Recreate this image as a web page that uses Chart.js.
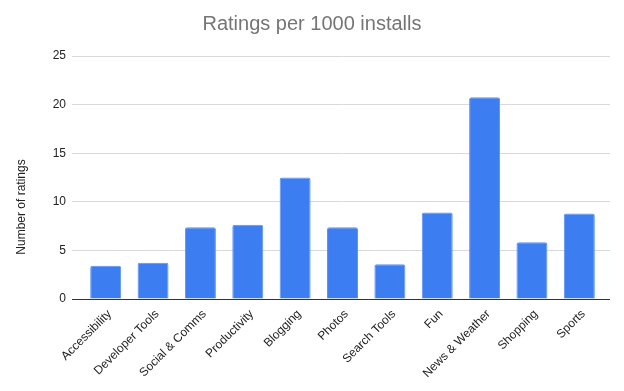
<!DOCTYPE html>
<html>
<head>
<meta charset="utf-8">
<script src="https://cdn.jsdelivr.net/npm/chart.js@4/dist/chart.umd.min.js"></script>
<style>
html,body{margin:0;padding:0;background:#fff;}
#wrap{width:624px;height:391px;position:relative;}
</style>
</head>
<body>
<div id="wrap"><canvas id="c" width="624" height="391"></canvas></div>
<script>
const categories = ["Accessibility","Developer Tools","Social & Comms","Productivity","Blogging","Photos","Search Tools","Fun","News & Weather","Shopping","Sports"];
const ratings = [3.42, 3.73, 7.37, 7.64, 12.5, 7.37, 3.57, 8.9, 20.76, 5.83, 8.8];
const yTicks = [0, 5, 10, 15, 20, 25];
const chartTitle = "Ratings per 1000 installs";
const yTitle = "Number of ratings";

const FONT = "'Liberation Sans', Arial, sans-serif";

const yTitlePlugin = {
  id: 'yTitle',
  afterDraw(chart) {
    const ctx = chart.ctx;
    ctx.save();
    ctx.translate(22, 207);
    ctx.rotate(-Math.PI / 2);
    ctx.font = "12px " + FONT;
    ctx.fillStyle = '#222';
    ctx.textAlign = 'center';
    ctx.textBaseline = 'middle';
    ctx.fillText(yTitle, 0, 0);
    ctx.restore();
  }
};

const gridColor = ctx => (ctx.tick && ctx.tick.value === 0) ? '#333333' : '#d9d9d9';

new Chart(document.getElementById('c'), {
  type: 'bar',
  data: {
    labels: categories,
    datasets: [{
      data: ratings,
      backgroundColor: '#3c7ef1',
      borderColor: '#5a92f3',
      borderWidth: 1,
      borderRadius: 2,
      borderSkipped: 'bottom',
      categoryPercentage: 1,
      barPercentage: 0.654
    }]
  },
  options: {
    responsive: false,
    animation: false,
    layout: { padding: { left: 0, right: 0, top: 0, bottom: 0 } },
    plugins: {
      legend: { display: false },
      tooltip: { enabled: false },
      title: {
        display: true,
        text: chartTitle,
        color: '#757575',
        font: { family: FONT, size: 20, weight: 'normal' },
        padding: { top: 12, bottom: 20 }
      }
    },
    scales: {
      x: {
        grid: { display: false },
        border: { display: true, color: '#333333', width: 1 },
        ticks: {
          color: '#222',
          font: { family: FONT, size: 12 },
          minRotation: 45,
          maxRotation: 45,
          autoSkip: false,
          padding: 0,
          labelOffset: 4
        },
        afterFit(scale) { scale.height = 92; }
      },
      y: {
        min: 0,
        max: 25,
        afterBuildTicks(scale) { scale.ticks = yTicks.map(v => ({ value: v })); },
        grid: { color: gridColor, lineWidth: 1, tickLength: 10, drawTicks: true },
        border: { display: false },
        ticks: {
          color: '#222',
          font: { family: FONT, size: 12 },
          padding: 6
        },
        afterFit(scale) { scale.width = 82; }
      },
      y2: {
        position: 'right',
        min: 0,
        max: 25,
        afterBuildTicks(scale) { scale.ticks = yTicks.map(v => ({ value: v })); },
        grid: { color: gridColor, drawOnChartArea: false, tickLength: 7, drawTicks: true },
        border: { display: false },
        ticks: { display: false },
        afterFit(scale) { scale.width = 21; }
      }
    }
  },
  plugins: [yTitlePlugin]
});
</script>
</body>
</html>
